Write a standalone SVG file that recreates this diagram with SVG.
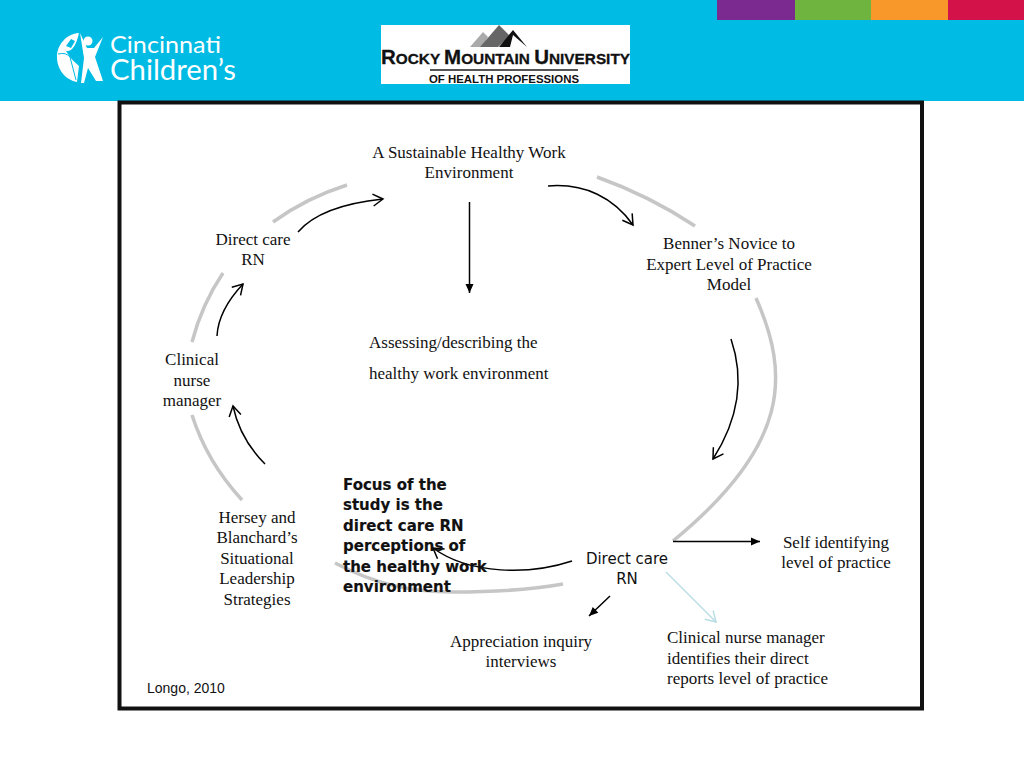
<svg xmlns="http://www.w3.org/2000/svg" width="1024" height="768" viewBox="0 0 1024 768">
<style>
.t{font-family:"Liberation Serif",serif;font-size:17px;fill:#111;text-anchor:middle}
.l{text-anchor:start}
.arc{fill:none;stroke:#c6c6c6;stroke-width:3.500}
.c{fill:none;stroke:#000;stroke-width:1.500}
.d{font-family:"DejaVu Sans",sans-serif;font-size:15px;fill:#111}
.b{font-weight:700;stroke:#111;stroke-width:.15}
</style>
<defs>
<marker id="open" markerUnits="userSpaceOnUse" markerWidth="16" markerHeight="16" refX="11" refY="6" orient="auto" overflow="visible"><path d="M1 0L11 6L1 12" fill="none" stroke="#000" stroke-width="1.5"/></marker>
<marker id="openb" markerUnits="userSpaceOnUse" markerWidth="16" markerHeight="16" refX="11" refY="6" orient="auto" overflow="visible"><path d="M1 0L11 6L1 12" fill="none" stroke="#b9dde4" stroke-width="1.5"/></marker>
<marker id="fill" markerUnits="userSpaceOnUse" markerWidth="12" markerHeight="10" refX="9" refY="4" orient="auto" overflow="visible"><path d="M0 0L9 4L0 8Z" fill="#000"/></marker>
</defs>
<rect width="1024" height="768" fill="#fff"/>
<g id="header">
<rect width="1024" height="101" fill="#00bbe3"/>
<rect x="717" width="78" height="20" fill="#7b2a90"/>
<rect x="795" width="76" height="20" fill="#6fb43f"/>
<rect x="871" width="77" height="20" fill="#f9982a"/>
<rect x="948" width="76" height="20" fill="#d3124a"/>
</g>
<g id="logo-cincinnati" fill="#fff">
<path d="M79 33C66 34 57 45 57 57C57 70 66 80 77 82L79 66C72 60 69 56 66 51C72 52 76 46 79 33Z"/>
<path d="M66 46L71 39L75 41L71 48Z" fill="#00bbe3"/>
<path d="M58 54Q66 52 70 57L76 80" fill="none" stroke="#00bbe3" stroke-width="1"/>
<circle cx="88" cy="41" r="4.500"/>
<path d="M80 33L87 48L94 48L103 37L95 57L103 81L96 81L88 68L84 83L81 83L84 58Z"/>
<text font-family="Lato,sans-serif"><tspan x="110" y="53" font-size="24" textLength="111" lengthAdjust="spacingAndGlyphs">Cincinnati</tspan><tspan x="110" y="80" font-size="28" textLength="126" lengthAdjust="spacingAndGlyphs">Children’s</tspan></text>
</g>
<g id="logo-rmu">
<rect x="381" y="25" width="249" height="59" fill="#fff"/>
<path d="M470 47L483 32L488 37L482 47Z" fill="#aaa"/>
<path d="M480 47L499 25L510 36L498 47Z" fill="#666"/>
<path d="M499 47L513 30L527 47L513 35L510 47Z" fill="#111"/>
<text x="381" y="64" font-family="'Liberation Sans',sans-serif" font-weight="700" font-size="15" fill="#111" stroke="#111" stroke-width=".3" textLength="249" lengthAdjust="spacingAndGlyphs"><tspan font-size="20">R</tspan>OCKY <tspan font-size="20">M</tspan>OUNTAIN <tspan font-size="20">U</tspan>NIVERSITY</text>
<rect x="430" y="69" width="148" height="2" fill="#555"/>
<text x="429" y="83" font-family="'Liberation Sans',sans-serif" font-weight="700" font-size="11" fill="#111" textLength="150" lengthAdjust="spacingAndGlyphs">OF HEALTH PROFESSIONS</text>
</g>
<rect id="frame" x="119.500" y="102.500" width="802.500" height="606" fill="#fff" stroke="#111" stroke-width="4"/>
<g id="connectors">
<path class="arc" d="M273 222Q306 198 347 185"/>
<path class="arc" d="M223 273Q202 304 192 342"/>
<path class="arc" d="M192 415Q207 462 242 500"/>
<path class="arc" d="M335 563C375 584 410 592 453 592C490 592 530 590 563 584"/>
<path class="arc" d="M597 177Q650 196 695 226"/>
<path class="arc" d="M756 298C790 375 790 445 673 541"/>
<path class="c" d="M298 232C315 212 345 203 383 199" marker-end="url(#open)"/>
<path class="c" d="M217 336C218 316 228 300 243 284" marker-end="url(#open)"/>
<path class="c" d="M265 464C250 449 238 430 233 406" marker-end="url(#open)"/>
<path class="c" d="M548 186C585 183 614 198 633 225" marker-end="url(#open)"/>
<path class="c" d="M731 339C745 380 738 420 713 459" marker-end="url(#open)"/>
<path class="c" d="M572 561C530 575 470 575 433 548" marker-end="url(#open)"/>
<path class="c" d="M673 541.500H760" marker-end="url(#fill)"/>
<path class="c" d="M469.500 202V293" marker-end="url(#fill)"/>
<path class="c" d="M610 596L589 616" marker-end="url(#fill)"/>
<path d="M666 572L716 622" fill="none" stroke="#b9dde4" stroke-width="1.500" marker-end="url(#openb)"/>
</g>
<g id="node-environment"><text class="t" x="469" y="157.500">A Sustainable Healthy Work</text><text class="t" x="469" y="177.500">Environment</text></g>
<g id="node-benner"><text class="t" x="729" y="248.500">Benner’s Novice to</text><text class="t" x="729" y="269.500">Expert Level of Practice</text><text class="t" x="729" y="289.500">Model</text></g>
<g id="node-direct-top"><text class="t" x="253" y="244.500">Direct care</text><text class="t" x="253" y="264.500">RN</text></g>
<g id="node-manager"><text class="t" x="192" y="365">Clinical</text><text class="t" x="192" y="385.500">nurse</text><text class="t" x="192" y="406">manager</text></g>
<g id="node-hersey"><text class="t" x="257" y="522.500">Hersey and</text><text class="t" x="257" y="543">Blanchard’s</text><text class="t" x="257" y="563.500">Situational</text><text class="t" x="257" y="584">Leadership</text><text class="t" x="257" y="604.500">Strategies</text></g>
<g id="node-assessing"><text class="t l" x="369" y="348">Assessing/describing the</text><text class="t l" x="369" y="379">healthy work environment</text></g>
<g id="node-focus"><text class="d b" x="343" y="489.500">Focus of the</text><text class="d b" x="343" y="510">study is the</text><text class="d b" x="343" y="530.500">direct care RN</text><text class="d b" x="343" y="551">perceptions of</text><text class="d b" x="343" y="571.500">the healthy work</text><text class="d b" x="343" y="592">environment</text></g>
<g id="node-direct-bottom"><text class="d" x="627" y="563.500" text-anchor="middle">Direct care</text><text class="d" x="627" y="584" text-anchor="middle">RN</text></g>
<g id="node-self"><text class="t" x="836" y="547.500">Self identifying</text><text class="t" x="836" y="568">level of practice</text></g>
<g id="node-interviews"><text class="t" x="521" y="647">Appreciation inquiry</text><text class="t" x="521" y="667">interviews</text></g>
<g id="node-identifies"><text class="t l" x="667" y="643">Clinical nurse manager</text><text class="t l" x="667" y="663.500">identifies their direct</text><text class="t l" x="667" y="684">reports level of practice</text></g>
<text id="citation" x="147" y="693" font-family="'Liberation Sans',sans-serif" font-size="14" fill="#111">Longo, 2010</text>
</svg>
